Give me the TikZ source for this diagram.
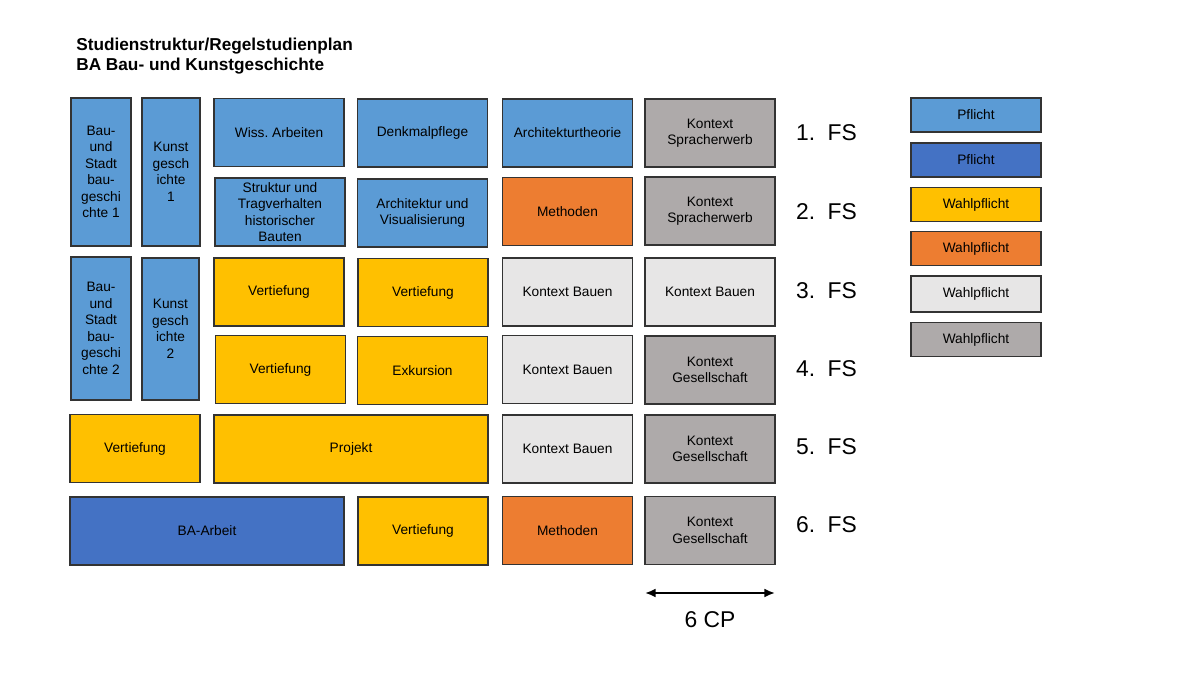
\documentclass[tikz,border=0pt]{standalone}
\usepackage{fontspec}
\setmainfont{Liberation Sans}
\frenchspacing
\definecolor{pflichthell}{RGB}{91, 155, 213}
\definecolor{pflichtdunkel}{RGB}{68, 114, 196}
\definecolor{wahlgelb}{RGB}{255, 192, 0}
\definecolor{wahlorange}{RGB}{237, 125, 49}
\definecolor{wahlhell}{RGB}{231, 230, 230}
\definecolor{wahlgrau}{RGB}{174, 170, 170}
\usepackage{tikz}
\usetikzlibrary{arrows.meta, positioning}

\tikzset{
  modul/.style={draw=black!80, line width=0.7pt, minimum width=2.6cm, minimum height=1.36cm,
    align=center, inner sep=1pt, font=\fontsize{7.8}{9.4}\selectfont},
  hellblau/.style={modul, fill=pflichthell},
  dunkelblau/.style={modul, fill=pflichtdunkel},
  gelb/.style={modul, fill=wahlgelb},
  orange/.style={modul, fill=wahlorange},
  hellgrau/.style={modul, fill=wahlhell},
  grau/.style={modul, fill=wahlgrau},
  schmal/.style={minimum width=1.2cm},
  legende/.style={minimum height=0.68cm},
  semester/.style={anchor=west, font=\fontsize{13}{15}\selectfont}
}

\begin{document}
\begin{tikzpicture}[x=0.02cm, y=-0.02cm]
  \useasboundingbox (0,0) rectangle (1200,675);

  % Titel
  \node[anchor=west, align=left, inner sep=0pt, font=\fontsize{9.8}{11.4}\selectfont\bfseries] (titel) at (76, 56)
    {Studienstruktur/Regelstudienplan\\BA Bau- und Kunstgeschichte};

  % 1. + 2. FS
  \node[hellblau, schmal, minimum height=2.96cm] (bau1) at (101, 172) {Bau-\\und\\Stadt\\bau-\\geschi\\chte 1};
  \node[hellblau, schmal, minimum width=1.16cm, minimum height=2.96cm] (kunst1) at (171, 172) {Kunst\\gesch\\ichte\\1};
  \node[hellblau] (wiss) at (279, 132.5) {Wiss. Arbeiten};
  \node[hellblau] (denkmal) at (422.5, 133) {Denkmalpflege};
  \node[hellblau] (theorie) at (567.5, 133) {Architekturtheorie};
  \node[grau] (sprache1) at (710, 133) {Kontext\\Spracherwerb};
  \node[hellblau] (struktur) at (280, 212) {Struktur und\\Tragverhalten\\historischer\\Bauten};
  \node[hellblau] (visual) at (422.5, 213) {Architektur und\\Visualisierung};
  \node[orange] (methoden1) at (567.5, 211.5) {Methoden};
  \node[grau] (sprache2) at (710, 211) {Kontext\\Spracherwerb};

  % 3. + 4. FS
  \node[hellblau, schmal, minimum height=2.86cm] (bau2) at (101, 328.5) {Bau-\\und\\Stadt\\bau-\\geschi\\chte 2};
  \node[hellblau, schmal, minimum width=1.14cm, minimum height=2.84cm] (kunst2) at (170.5, 329) {Kunst\\gesch\\ichte\\2};
  \node[gelb] (vert1) at (279, 292) {Vertiefung};
  \node[gelb] (vert2) at (423, 292.5) {Vertiefung};
  \node[hellgrau] (bauen1) at (567.5, 292) {Kontext Bauen};
  \node[hellgrau] (bauen2) at (710, 292) {Kontext Bauen};
  \node[gelb] (vert3) at (280.5, 369.5) {Vertiefung};
  \node[gelb] (exkursion) at (422.5, 370.5) {Exkursion};
  \node[hellgrau] (bauen3) at (567.5, 369.5) {Kontext Bauen};
  \node[grau] (gesell1) at (710, 370) {Kontext\\Gesellschaft};

  % 5. FS
  \node[gelb] (vert4) at (135, 448.5) {Vertiefung};
  \node[gelb, minimum width=5.48cm] (projekt) at (351, 449) {Projekt};
  \node[hellgrau] (bauen4) at (567.5, 449) {Kontext Bauen};
  \node[grau] (gesell2) at (710, 449) {Kontext\\Gesellschaft};

  % 6. FS
  \node[dunkelblau, minimum width=5.48cm] (arbeit) at (207, 531) {BA-Arbeit};
  \node[gelb] (vert5) at (423, 531) {Vertiefung};
  \node[orange] (methoden2) at (567.5, 530.5) {Methoden};
  \node[grau] (gesell3) at (710, 530.5) {Kontext\\Gesellschaft};

  % Fachsemester
  \node[semester] (fs1) at (790, 133) {1.\hspace{7pt}FS};
  \node[semester] (fs2) at (790, 212) {2.\hspace{7pt}FS};
  \node[semester] (fs3) at (790, 291) {3.\hspace{7pt}FS};
  \node[semester] (fs4) at (790, 369) {4.\hspace{7pt}FS};
  \node[semester] (fs5) at (790, 447) {5.\hspace{7pt}FS};
  \node[semester] (fs6) at (790, 525) {6.\hspace{7pt}FS};

  % 6 CP
  \coordinate (cplinks) at (645, 593);
  \coordinate (cprechts) at (775, 593);
  \draw[{Latex[length=6pt, width=5pt]}-{Latex[length=6pt, width=5pt]}, line width=1.1pt] (cplinks) -- (cprechts);
  \node[font=\fontsize{13}{15}\selectfont] (cp) at (710, 620) {6 CP};

  % Legende
  \node[hellblau, legende] (leg1) at (976, 115) {Pflicht};
  \node[dunkelblau, legende] (leg2) at (976, 160) {Pflicht};
  \node[gelb, legende] (leg3) at (976, 204.5) {Wahlpflicht};
  \node[orange, legende] (leg4) at (976, 248.5) {Wahlpflicht};
  \node[hellgrau, legende, minimum height=0.72cm] (leg5) at (976, 294) {Wahlpflicht};
  \node[grau, legende] (leg6) at (976, 339.5) {Wahlpflicht};
\end{tikzpicture}
\end{document}
